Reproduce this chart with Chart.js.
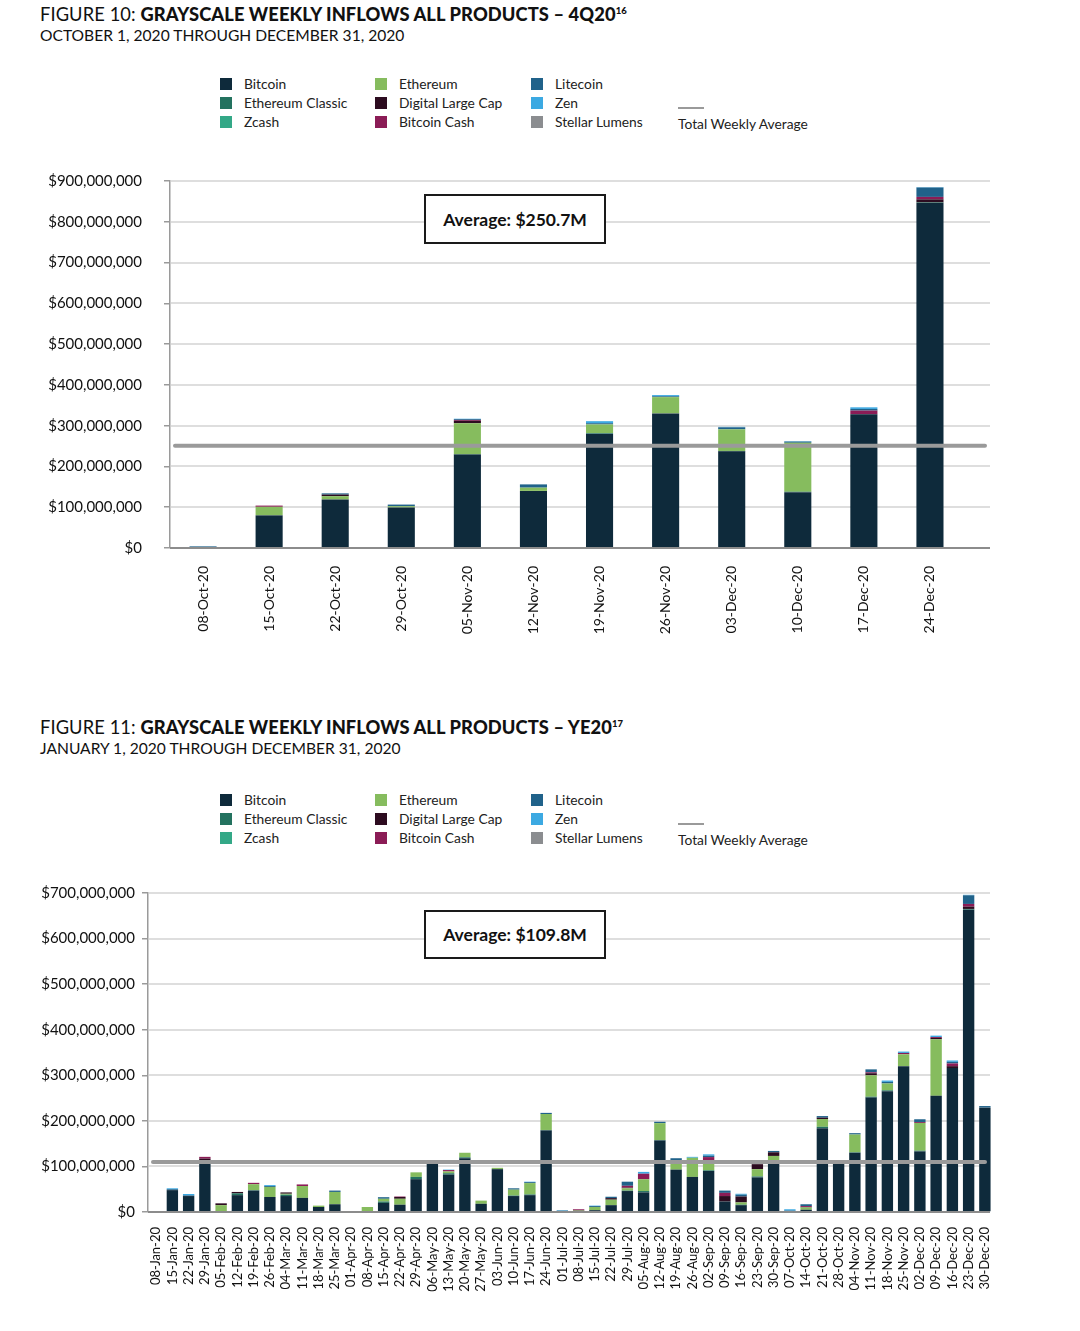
<!DOCTYPE html>
<html>
<head>
<meta charset="utf-8">
<script src="https://cdn.jsdelivr.net/npm/chart.js@4"></script>
<style>
  html, body { margin: 0; padding: 0; background: #ffffff; }
  body { width: 1080px; height: 1331px; position: relative; overflow: hidden; font-family: "Lato", "Open Sans", sans-serif; color: #111; }
  .title { position: absolute; left: 40px; font-size: 18.3px; white-space: nowrap; letter-spacing: 0.1px; }
  .title b { font-weight: 900; }
  .title sup { font-size: 9.5px; font-weight: 900; vertical-align: 7px; line-height: 0; }
  .subtitle { position: absolute; left: 40px; font-size: 15.6px; white-space: nowrap; }
  .legend { position: absolute; left: 0; top: 0; width: 1080px; height: 0; }
  .lg-item { position: absolute; font-size: 13.8px; color: #222; white-space: nowrap; line-height: 16px; }
  .lg-sw { position: absolute; width: 12px; height: 12px; }
  .lg-line { position: absolute; width: 26px; height: 2px; background: #9a9a9a; }
  .avgbox { position: absolute; border: 2px solid #1a1a1a; box-sizing: border-box; display: flex; align-items: center; justify-content: center; font-size: 17.5px; font-weight: 700; color: #111; background: #fff; }
  canvas { position: absolute; left: 0; }
</style>
</head>
<body>
<div class="title" style="top:3px;">FIGURE 10: <b>GRAYSCALE WEEKLY INFLOWS ALL PRODUCTS – 4Q20<sup>16</sup></b></div>
<div class="subtitle" style="top:26px;">OCTOBER 1, 2020 THROUGH DECEMBER 31, 2020</div>
<div id="legend1" class="legend"></div>
<canvas id="chart1" width="1080" height="502" style="top:150px;"></canvas>
<div id="avg1" class="avgbox" style="left:424px; top:194px; width:182px; height:50px;"></div>

<div class="title" style="top:716px;">FIGURE 11: <b>GRAYSCALE WEEKLY INFLOWS ALL PRODUCTS – YE20<sup>17</sup></b></div>
<div class="subtitle" style="top:739px;">JANUARY 1, 2020 THROUGH DECEMBER 31, 2020</div>
<div id="legend2" class="legend"></div>
<canvas id="chart2" width="1080" height="440" style="top:875px;"></canvas>
<div id="avg2" class="avgbox" style="left:424px; top:910px; width:182px; height:49px;"></div>

<script>
// ---------------- DATA (values in USD millions) ----------------
const seriesNames = ["Bitcoin", "Ethereum Classic", "Zcash", "Ethereum", "Digital Large Cap", "Bitcoin Cash", "Litecoin", "Zen", "Stellar Lumens"];
const seriesColors = ["#0e2a3b", "#23725f", "#33a887", "#86bc5e", "#2d0c20", "#8b1c56", "#20628a", "#3ca9e2", "#8b8d90"];
const averageLabel = "Total Weekly Average";

// Figure 10: 4Q20
const q4Weeks = ["08-Oct-20", "15-Oct-20", "22-Oct-20", "29-Oct-20", "05-Nov-20", "12-Nov-20", "19-Nov-20", "26-Nov-20", "03-Dec-20", "10-Dec-20", "17-Dec-20", "24-Dec-20"];
const q4Bitcoin         = [2, 80, 119, 99.5, 229, 140, 280, 330, 237, 137, 328, 846];
const q4EthereumClassic = [0, 0, 0, 0, 1, 0, 1, 0, 1, 1, 0, 0];
const q4Zcash           = [0, 0, 0, 0, 0, 0, 1, 0, 0, 0, 0, 1];
const q4Ethereum        = [0, 21, 8, 3, 76, 8, 21, 40, 53, 120, 0, 0];
const q4DigitalLargeCap = [0, 0, 4, 0, 6, 0, 0, 0, 0, 0, 0, 8];
const q4BitcoinCash     = [0, 3, 0, 0, 2, 0, 0, 0, 0, 0, 9, 6];
const q4Litecoin        = [2, 0, 3, 4, 2, 8, 3, 2, 5, 3, 4, 23];
const q4Zen             = [0, 0, 0, 0, 1, 0, 5, 3, 1, 1, 4, 1];
const q4StellarLumens   = [0, 0, 0, 0, 0, 0, 0, 0, 0, 0, 0, 0];
const q4Average = 250.7;
const q4YTicksMax = 900;
const q4YTickStep = 100;

// Figure 11: YE20
const ytdWeeks = ["08-Jan-20", "15-Jan-20", "22-Jan-20", "29-Jan-20", "05-Feb-20", "12-Feb-20", "19-Feb-20", "26-Feb-20",
  "04-Mar-20", "11-Mar-20", "18-Mar-20", "25-Mar-20", "01-Apr-20", "08-Apr-20", "15-Apr-20", "22-Apr-20", "29-Apr-20",
  "06-May-20", "13-May-20", "20-May-20", "27-May-20", "03-Jun-20", "10-Jun-20", "17-Jun-20", "24-Jun-20",
  "01-Jul-20", "08-Jul-20", "15-Jul-20", "22-Jul-20", "29-Jul-20", "05-Aug-20", "12-Aug-20", "19-Aug-20", "26-Aug-20",
  "02-Sep-20", "09-Sep-20", "16-Sep-20", "23-Sep-20", "30-Sep-20", "07-Oct-20", "14-Oct-20", "21-Oct-20", "28-Oct-20",
  "04-Nov-20", "11-Nov-20", "18-Nov-20", "25-Nov-20", "02-Dec-20", "09-Dec-20", "16-Dec-20", "23-Dec-20", "30-Dec-20"];
const ytdBitcoin = [0, 48, 35, 113, 0, 37, 47, 33, 35, 31, 11, 17, 0, 0, 20, 16, 72, 106, 82, 118, 18, 94, 35, 37, 179,
  1, 1, 4, 15, 46, 43, 157, 93, 77, 90, 23, 15, 76, 106, 1, 5, 184, 111, 130, 251, 265, 320, 133, 255, 316, 663, 229];
const ytdEthereumClassic = [0, 0, 0, 0, 0, 4, 1, 0, 3, 0, 0, 0, 0, 0, 3, 0, 5, 0, 3, 2, 0, 0, 1, 1.5, 1,
  0, 0, 0, 0, 1, 3, 1, 0, 0, 1.5, 0, 1, 2, 0, 0, 0, 3, 0, 1, 2, 2, 0, 1.5, 0, 0, 1, 0];
const ytdZcash = [0, 0, 0, 0, 0, 0, 0, 0, 0, 0, 0, 0, 0, 0, 0, 0, 0, 0, 0, 0, 0, 0, 0, 0, 0,
  0, 0, 0, 0, 0, 0, 0, 0, 0, 0, 0, 0, 0, 0, 0, 0, 0, 0, 0, 0, 0, 0, 0, 0, 0, 1, 0];
const ytdEthereum = [0, 0, 0, 0, 15, 0, 13, 22, 2, 26, 3, 27, 0, 11, 6, 13, 10, 0, 4, 10, 7, 3, 13, 25, 35,
  0, 2, 7, 12, 5, 26, 37, 19, 42, 20, 0, 5, 16, 17, 0, 5, 17, 0, 39, 47, 15, 26, 61, 124, 0, 0, 0];
const ytdDigitalLargeCap = [0, 0, 0, 4, 4, 3, 0, 0, 3, 0, 0, 0, 0, 0, 0, 4, 0, 0, 0, 0, 0, 0, 0, 0, 0,
  0, 1, 0, 3.5, 1.5, 0, 0, 0, 0, 0, 12, 13, 11, 8, 0, 1, 3, 0, 0, 4.5, 0, 0, 0, 3, 4, 5, 0];
const ytdBitcoinCash = [0, 0, 0, 4, 0, 0, 3, 0, 0, 3.5, 0, 0, 0, 0, 0, 1, 0, 0, 3, 0, 0, 0, 0, 0, 0,
  0, 2, 0, 0, 4, 12, 0, 2, 0, 9, 7, 0, 0, 0, 0, 2, 0, 0, 0, 2, 0, 3, 2, 2, 6, 6, 0];
const ytdLitecoin = [0, 2, 1.5, 0, 0, 0, 0, 2, 0, 0, 0, 3, 0, 0, 3.5, 0, 0, 0, 0, 0, 0, 0, 3, 2, 2.5,
  2, 0, 2, 3, 9, 0, 3, 4, 0, 3, 5, 4, 0, 3, 2, 4, 3.5, 1, 3, 6.5, 3.5, 0, 6, 0, 3.5, 19, 3.5];
const ytdZen = [0, 2, 3, 0, 0, 0, 0, 2, 0, 0, 0, 0, 0, 0, 0, 0, 0, 0, 1, 0, 0, 0, 0, 1, 0,
  1, 0, 1, 0, 0, 4, 0, 0, 2, 3, 0, 2, 0, 0, 3, 0, 0, 0, 0, 0, 3, 3, 0, 3, 3, 1, 0];
const ytdStellarLumens = [0, 0, 0, 0, 0, 0, 0, 0, 0, 0, 0, 0, 0, 0, 0, 0, 0, 0, 0, 0, 0, 0, 0, 0, 0,
  0, 0, 0, 0, 0, 0, 0, 0, 0, 0, 0, 0, 0, 0, 0, 0, 0, 0, 0, 0, 0, 0, 0, 0, 0, 0, 0];
const ytdAverage = 109.8;
const ytdYTicksMax = 700;
const ytdYTickStep = 100;

// ---------------- LEGENDS ----------------
function buildLegend(el, topY) {
  const colX = [220, 375, 531];
  const rowDy = 19;
  seriesNames.forEach((name, i) => {
    const col = Math.floor(i / 3), row = i % 3;
    const y = topY + row * rowDy;
    const sw = document.createElement('div');
    sw.className = 'lg-sw';
    sw.style.left = colX[col] + 'px';
    sw.style.top = (y - 6) + 'px';
    sw.style.background = seriesColors[i];
    el.appendChild(sw);
    const tx = document.createElement('div');
    tx.className = 'lg-item';
    tx.style.left = (colX[col] + 24) + 'px';
    tx.style.top = (y - 8) + 'px';
    tx.textContent = name;
    el.appendChild(tx);
  });
  const ln = document.createElement('div');
  ln.className = 'lg-line';
  ln.style.left = '678px';
  ln.style.top = (topY + 23) + 'px';
  el.appendChild(ln);
  const tx = document.createElement('div');
  tx.className = 'lg-item';
  tx.style.left = '678px';
  tx.style.top = (topY + 32) + 'px';
  tx.textContent = averageLabel;
  el.appendChild(tx);
}
buildLegend(document.getElementById('legend1'), 84);
buildLegend(document.getElementById('legend2'), 800);

document.getElementById('avg1').textContent = 'Average: $' + q4Average + 'M';
document.getElementById('avg2').textContent = 'Average: $' + ytdAverage + 'M';

// ---------------- CHARTS ----------------
const refLinesPlugin = {
  id: 'refLines',
  beforeDatasetsDraw(chart, args, opts) {
    const ctx = chart.ctx, y = chart.scales.y, area = chart.chartArea;
    ctx.save();
    ctx.strokeStyle = '#dedede';
    ctx.lineWidth = 2;
    y.ticks.forEach(t => {
      if (t.value === 0) return;
      const py = Math.round(y.getPixelForValue(t.value));
      ctx.beginPath();
      ctx.moveTo(area.left + 1, py);
      ctx.lineTo(opts.gridRight, py);
      ctx.stroke();
    });
    ctx.restore();
  },
  afterDatasetsDraw(chart, args, opts) {
    const ctx = chart.ctx, y = chart.scales.y, area = chart.chartArea;
    ctx.save();
    const p0 = y.getPixelForValue(0);
    ctx.strokeStyle = '#8c8c8c';
    ctx.lineWidth = 2;
    ctx.beginPath();
    ctx.moveTo(area.left, p0);
    ctx.lineTo(opts.gridRight, p0);
    ctx.stroke();
    const pa = y.getPixelForValue(opts.average);
    ctx.strokeStyle = '#9a9a9a';
    ctx.lineWidth = 4;
    ctx.lineCap = 'round';
    ctx.beginPath();
    ctx.moveTo(opts.avgLeft, pa);
    ctx.lineTo(opts.avgRight, pa);
    ctx.stroke();
    ctx.restore();
  }
};

function makeChart(canvasId, labels, seriesData, cfg) {
  const datasets = seriesData.map((d, i) => ({
    label: seriesNames[i],
    data: d,
    backgroundColor: seriesColors[i],
    borderWidth: 0,
    barPercentage: cfg.barPct,
    categoryPercentage: 1.0,
    stack: 's'
  }));
  return new Chart(document.getElementById(canvasId), {
    type: 'bar',
    data: { labels, datasets },
    plugins: [refLinesPlugin],
    options: {
      responsive: false,
      animation: false,
      devicePixelRatio: 1,
      layout: { padding: { top: cfg.padTop, right: cfg.padRight, bottom: cfg.padBottom, left: 0 } },
      plugins: {
        legend: { display: false },
        tooltip: { enabled: false },
        refLines: { gridRight: 990, average: cfg.average, avgLeft: cfg.avgLeft, avgRight: 985 }
      },
      scales: {
        x: {
          stacked: true,
          grid: { display: false, drawTicks: false },
          border: { display: false },
          ticks: {
            autoSkip: false, maxRotation: 90, minRotation: 90,
            font: { family: 'Lato', size: cfg.xFont }, color: '#111', padding: cfg.xPad
          },
          afterFit: s => { s.height = cfg.xHeight; }
        },
        y: {
          stacked: true,
          min: 0, max: cfg.yMax,
          grid: { drawOnChartArea: false, drawTicks: true, tickLength: 6, color: '#9a9a9a', lineWidth: 1.5 },
          border: { display: true, color: '#9a9a9a', width: 1.5 },
          ticks: {
            stepSize: cfg.yStep,
            font: { family: 'Lato', size: 15 }, color: '#111', padding: cfg.yPad,
            callback: v => '$' + (v * 1e6).toLocaleString('en-US')
          },
          afterFit: s => { s.width = cfg.yWidth; }
        }
      }
    }
  });
}

makeChart('chart1', q4Weeks,
  [q4Bitcoin, q4EthereumClassic, q4Zcash, q4Ethereum, q4DigitalLargeCap, q4BitcoinCash, q4Litecoin, q4Zen, q4StellarLumens],
  { barPct: 0.41, padTop: 10, padRight: 117, padBottom: 2, xHeight: 102, xPad: 18, xFont: 14,
    yMax: q4YTicksMax, yStep: q4YTickStep, yPad: 22, yWidth: 170, average: q4Average, avgLeft: 175 });

makeChart('chart2', ytdWeeks,
  [ytdBitcoin, ytdEthereumClassic, ytdZcash, ytdEthereum, ytdDigitalLargeCap, ytdBitcoinCash, ytdLitecoin, ytdZen, ytdStellarLumens],
  { barPct: 0.70, padTop: 18, padRight: 87, padBottom: 2, xHeight: 101, xPad: 15, xFont: 13,
    yMax: ytdYTicksMax, yStep: ytdYTickStep, yPad: 7, yWidth: 148, average: ytdAverage, avgLeft: 153 });
</script>
</body>
</html>
